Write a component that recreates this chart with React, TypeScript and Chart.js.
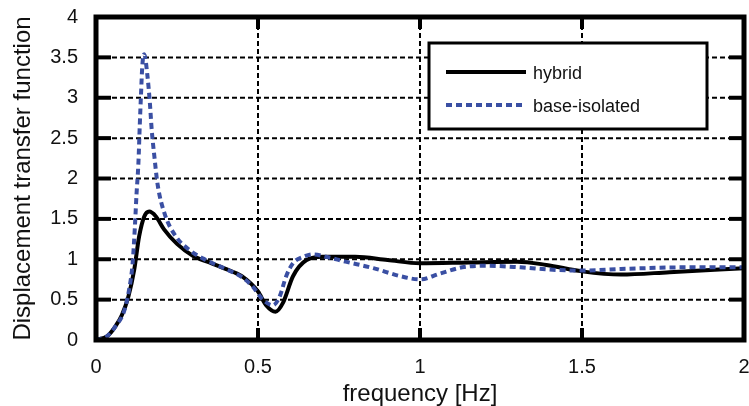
import React, { useEffect, useRef } from "react";
import { Chart, registerables } from "chart.js";

Chart.register(...registerables);

const seriesLabels = ["hybrid", "base-isolated"];
const xTitle = "frequency [Hz]";
const yTitle = "Displacement transfer function";
const xTicks = [0, 0.5, 1, 1.5, 2];
const yTicks = [0, 0.5, 1, 1.5, 2, 2.5, 3, 3.5, 4];

const hybridFreq = [0, 0.035, 0.06, 0.08, 0.1, 0.118, 0.133, 0.149, 0.164, 0.185, 0.21, 0.25, 0.3, 0.35, 0.4, 0.45, 0.5, 0.525, 0.554, 0.577, 0.608, 0.65, 0.7, 0.8, 0.9, 1.0, 1.15, 1.3, 1.39, 1.5, 1.62, 1.77, 2.0];
const hybridValues = [0, 0.05, 0.17, 0.31, 0.54, 0.87, 1.28, 1.53, 1.59, 1.53, 1.37, 1.19, 1.04, 0.96, 0.88, 0.79, 0.6, 0.43, 0.35, 0.46, 0.79, 0.99, 1.03, 1.03, 0.99, 0.95, 0.96, 0.97, 0.93, 0.85, 0.81, 0.84, 0.89];

const baseFreq = [0, 0.035, 0.06, 0.087, 0.102, 0.113, 0.12, 0.125, 0.131, 0.135, 0.139, 0.143, 0.149, 0.158, 0.166, 0.172, 0.18, 0.19, 0.213, 0.247, 0.29, 0.34, 0.4, 0.45, 0.484, 0.515, 0.546, 0.567, 0.587, 0.608, 0.64, 0.67, 0.71, 0.77, 0.856, 0.94, 1.0, 1.06, 1.13, 1.2, 1.31, 1.41, 1.5, 1.62, 1.83, 2.0];
const baseValues = [0, 0.05, 0.17, 0.36, 0.62, 0.95, 1.4, 1.8, 2.2, 2.65, 3.05, 3.4, 3.54, 3.3, 2.95, 2.6, 2.28, 1.93, 1.55, 1.28, 1.11, 0.99, 0.88, 0.78, 0.66, 0.5, 0.43, 0.54, 0.79, 0.95, 1.03, 1.06, 1.03, 0.97, 0.89, 0.79, 0.75, 0.82, 0.9, 0.92, 0.9, 0.87, 0.86, 0.88, 0.9, 0.9];

const FONT = "'Liberation Sans', Arial, Helvetica, sans-serif";
const BLUE = "#3a4fa3";

const framePlugin = {
  id: "framePlugin",
  beforeDatasetsDraw(chart: any) {
    const { ctx, chartArea, scales } = chart;
    const { left, right, top, bottom } = chartArea;
    ctx.save();
    ctx.strokeStyle = "#000";
    ctx.lineWidth = 2;
    ctx.setLineDash([5, 3]);
    yTicks.forEach((v) => {
      const py = scales.y.getPixelForValue(v);
      ctx.beginPath();
      ctx.moveTo(left, py);
      ctx.lineTo(right, py);
      ctx.stroke();
    });
    xTicks.forEach((v) => {
      const px = scales.x.getPixelForValue(v);
      ctx.beginPath();
      ctx.moveTo(px, top);
      ctx.lineTo(px, bottom);
      ctx.stroke();
    });
    ctx.restore();
  },
  afterDatasetsDraw(chart: any) {
    const { ctx, chartArea, scales } = chart;
    const { left, right, top, bottom } = chartArea;
    ctx.save();
    ctx.strokeStyle = "#000";
    ctx.setLineDash([]);
    ctx.lineWidth = 4;
    const line = (x1: number, y1: number, x2: number, y2: number) => {
      ctx.beginPath();
      ctx.moveTo(x1, y1);
      ctx.lineTo(x2, y2);
      ctx.stroke();
    };
    yTicks.forEach((v) => {
      const py = scales.y.getPixelForValue(v);
      line(left, py, left + 15, py);
      line(right - 15, py, right, py);
    });
    xTicks.forEach((v) => {
      const px = scales.x.getPixelForValue(v);
      line(px, bottom, px, bottom - 12);
      line(px, top, px, top + 12);
    });
    ctx.lineWidth = 5;
    ctx.strokeRect(left, top, right - left, bottom - top);

    // legend
    const bx = 429, by = 43, bw = 278, bh = 86;
    ctx.fillStyle = "#fff";
    ctx.fillRect(bx, by, bw, bh);
    ctx.lineWidth = 3;
    ctx.strokeStyle = "#000";
    ctx.strokeRect(bx, by, bw, bh);
    ctx.lineWidth = 4;
    line(446, 72, 526, 72);
    ctx.strokeStyle = BLUE;
    ctx.setLineDash([6, 4]);
    line(446, 105, 524, 105);
    ctx.setLineDash([]);
    ctx.fillStyle = "#111";
    ctx.font = `18px ${FONT}`;
    ctx.textAlign = "left";
    ctx.textBaseline = "middle";
    ctx.fillText(seriesLabels[0], 533, 74);
    ctx.fillText(seriesLabels[1], 533, 107);
    ctx.restore();
  },
};

const fmt = (v: any) => String(Number(v));

export default function App() {
  const ref = useRef<HTMLCanvasElement | null>(null);
  useEffect(() => {
    if (!ref.current) return;
    const chart = new Chart(ref.current, {
      type: "line",
      data: {
        datasets: [
          {
            label: seriesLabels[0],
            data: hybridFreq.map((f, i) => ({ x: f, y: hybridValues[i] })),
            borderColor: "#000",
            borderWidth: 4,
            pointRadius: 0,
            fill: false,
            cubicInterpolationMode: "monotone",
            order: 1,
          },
          {
            label: seriesLabels[1],
            data: baseFreq.map((f, i) => ({ x: f, y: baseValues[i] })),
            borderColor: BLUE,
            borderWidth: 4,
            borderDash: [6, 4],
            pointRadius: 0,
            fill: false,
            cubicInterpolationMode: "monotone",
            order: 0,
          },
        ],
      },
      options: {
        animation: false,
        responsive: false,
        layout: { padding: { top: 17, right: 5, left: 0, bottom: 0 } },
        plugins: { legend: { display: false }, tooltip: { enabled: false } },
        scales: {
          x: {
            type: "linear",
            min: 0,
            max: 2,
            afterFit: (s: any) => { s.height = 66; s.paddingLeft = 0; s.paddingRight = 0; },
            afterBuildTicks: (s: any) => { s.ticks = xTicks.map((v) => ({ value: v })); },
            grid: { display: false, drawTicks: false },
            border: { display: false },
            ticks: { color: "#111", padding: 15, font: { size: 20, family: FONT }, maxRotation: 0, callback: fmt },
            title: { display: true, text: xTitle, color: "#111", font: { size: 24, family: FONT, lineHeight: 1 }, padding: { top: 0, bottom: 0 } },
          },
          y: {
            type: "linear",
            min: 0,
            max: 4,
            afterFit: (s: any) => { s.width = 96; s.paddingTop = 0; s.paddingBottom = 0; },
            afterBuildTicks: (s: any) => { s.ticks = yTicks.map((v) => ({ value: v })); },
            grid: { display: false, drawTicks: false },
            border: { display: false },
            ticks: { color: "#111", padding: 18, font: { size: 20, family: FONT }, callback: fmt },
            title: { display: true, text: yTitle, color: "#111", font: { size: 24, family: FONT, lineHeight: 1 }, padding: { top: 11, bottom: 0 } },
          },
        },
      },
      plugins: [framePlugin],
    } as any);
    return () => chart.destroy();
  }, []);
  return (
    <div style={{ position: "fixed", left: 0, top: 0, width: 749, height: 406, background: "#fff" }}>
      <canvas ref={ref} width={749} height={406} style={{ width: 749, height: 406, display: "block" }} />
    </div>
  );
}
